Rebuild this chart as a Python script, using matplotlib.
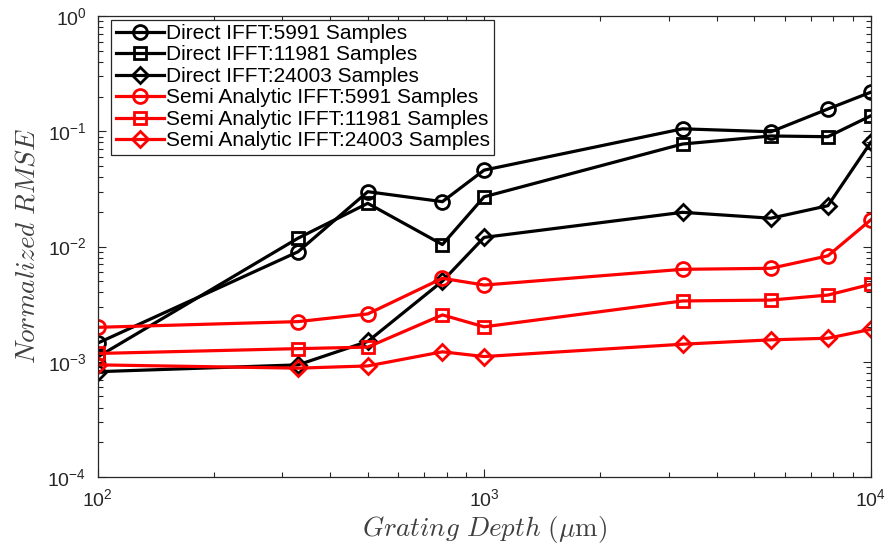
import numpy as np
import matplotlib
matplotlib.use('Agg')
import matplotlib.pyplot as plt

plt.rcParams['font.family'] = ['Liberation Sans', 'DejaVu Sans']
plt.rcParams['mathtext.fontset'] = 'cm'

depth = [100, 330, 500, 780, 1000, 3260, 5520, 7750, 10000]

direct_5991 = [1.45e-3, 9.0e-3, 2.99e-2, 2.45e-2, 4.6e-2, 0.105, 0.099, 0.156, 0.218]
direct_11981 = [1.1e-3, 1.18e-2, 2.37e-2, 1.04e-2, 2.7e-2, 7.75e-2, 9.1e-2, 8.97e-2, 0.136]
direct_24003 = [8.2e-4, 9.4e-4, 1.5e-3, 5.0e-3, 1.2e-2, 1.98e-2, 1.76e-2, 2.26e-2, 8.0e-2]
semi_5991 = [1.99e-3, 2.23e-3, 2.6e-3, 5.3e-3, 4.63e-3, 6.34e-3, 6.47e-3, 8.3e-3, 1.70e-2]
semi_11981 = [1.18e-3, 1.3e-3, 1.34e-3, 2.55e-3, 2.01e-3, 3.37e-3, 3.43e-3, 3.79e-3, 4.7e-3]
semi_24003 = [9.4e-4, 8.8e-4, 9.2e-4, 1.22e-3, 1.11e-3, 1.42e-3, 1.55e-3, 1.6e-3, 1.91e-3]

series = [
    ('Direct IFFT:5991 Samples', direct_5991, 'k', 'o'),
    ('Direct IFFT:11981 Samples', direct_11981, 'k', 's'),
    ('Direct IFFT:24003 Samples', direct_24003, 'k', 'D'),
    ('Semi Analytic IFFT:5991 Samples', semi_5991, 'r', 'o'),
    ('Semi Analytic IFFT:11981 Samples', semi_11981, 'r', 's'),
    ('Semi Analytic IFFT:24003 Samples', semi_24003, 'r', 'D'),
]
msize = {'o': 10, 's': 8.5, 'D': 8.5}

fig = plt.figure(figsize=(8.9, 5.5), dpi=100)
ax = fig.add_axes([0.1096, 0.1327, 0.8687, 0.8382])

for label, vals, col, mk in series:
    ax.plot(depth, vals, color=col, marker=mk, markersize=msize[mk], markerfacecolor='none',
            markeredgewidth=2, linewidth=2.3, label=label)

ax.set_xscale('log')
ax.set_yscale('log')
ax.set_xlim(100, 1e4)
ax.set_ylim(1e-4, 1)

ax.tick_params(which='both', direction='in', top=True, right=True, colors='#262626',
               labelsize=14, width=0.8)
ax.tick_params(which='major', length=6, pad=8)
ax.tick_params(which='minor', length=3.5)
for s in ax.spines.values():
    s.set_color('#262626')
    s.set_linewidth(0.9)

ax.set_xlabel(r'$Grating\ Depth\ (\mu\mathrm{m})$', fontsize=19.5, color='#404040', labelpad=3)
ax.set_ylabel(r'$Normalized\ RMSE$', fontsize=19.5, color='#404040', labelpad=5)

leg = ax.legend(loc='upper left', bbox_to_anchor=(0.018, 0.992), fontsize=15,
                handlelength=2.3, handletextpad=0.1, labelspacing=0.12, borderpad=0.2,
                borderaxespad=0, fancybox=False, framealpha=1)
leg.get_frame().set_edgecolor('#262626')
leg.get_frame().set_linewidth(0.9)

fig.savefig('out.png', dpi=100)
